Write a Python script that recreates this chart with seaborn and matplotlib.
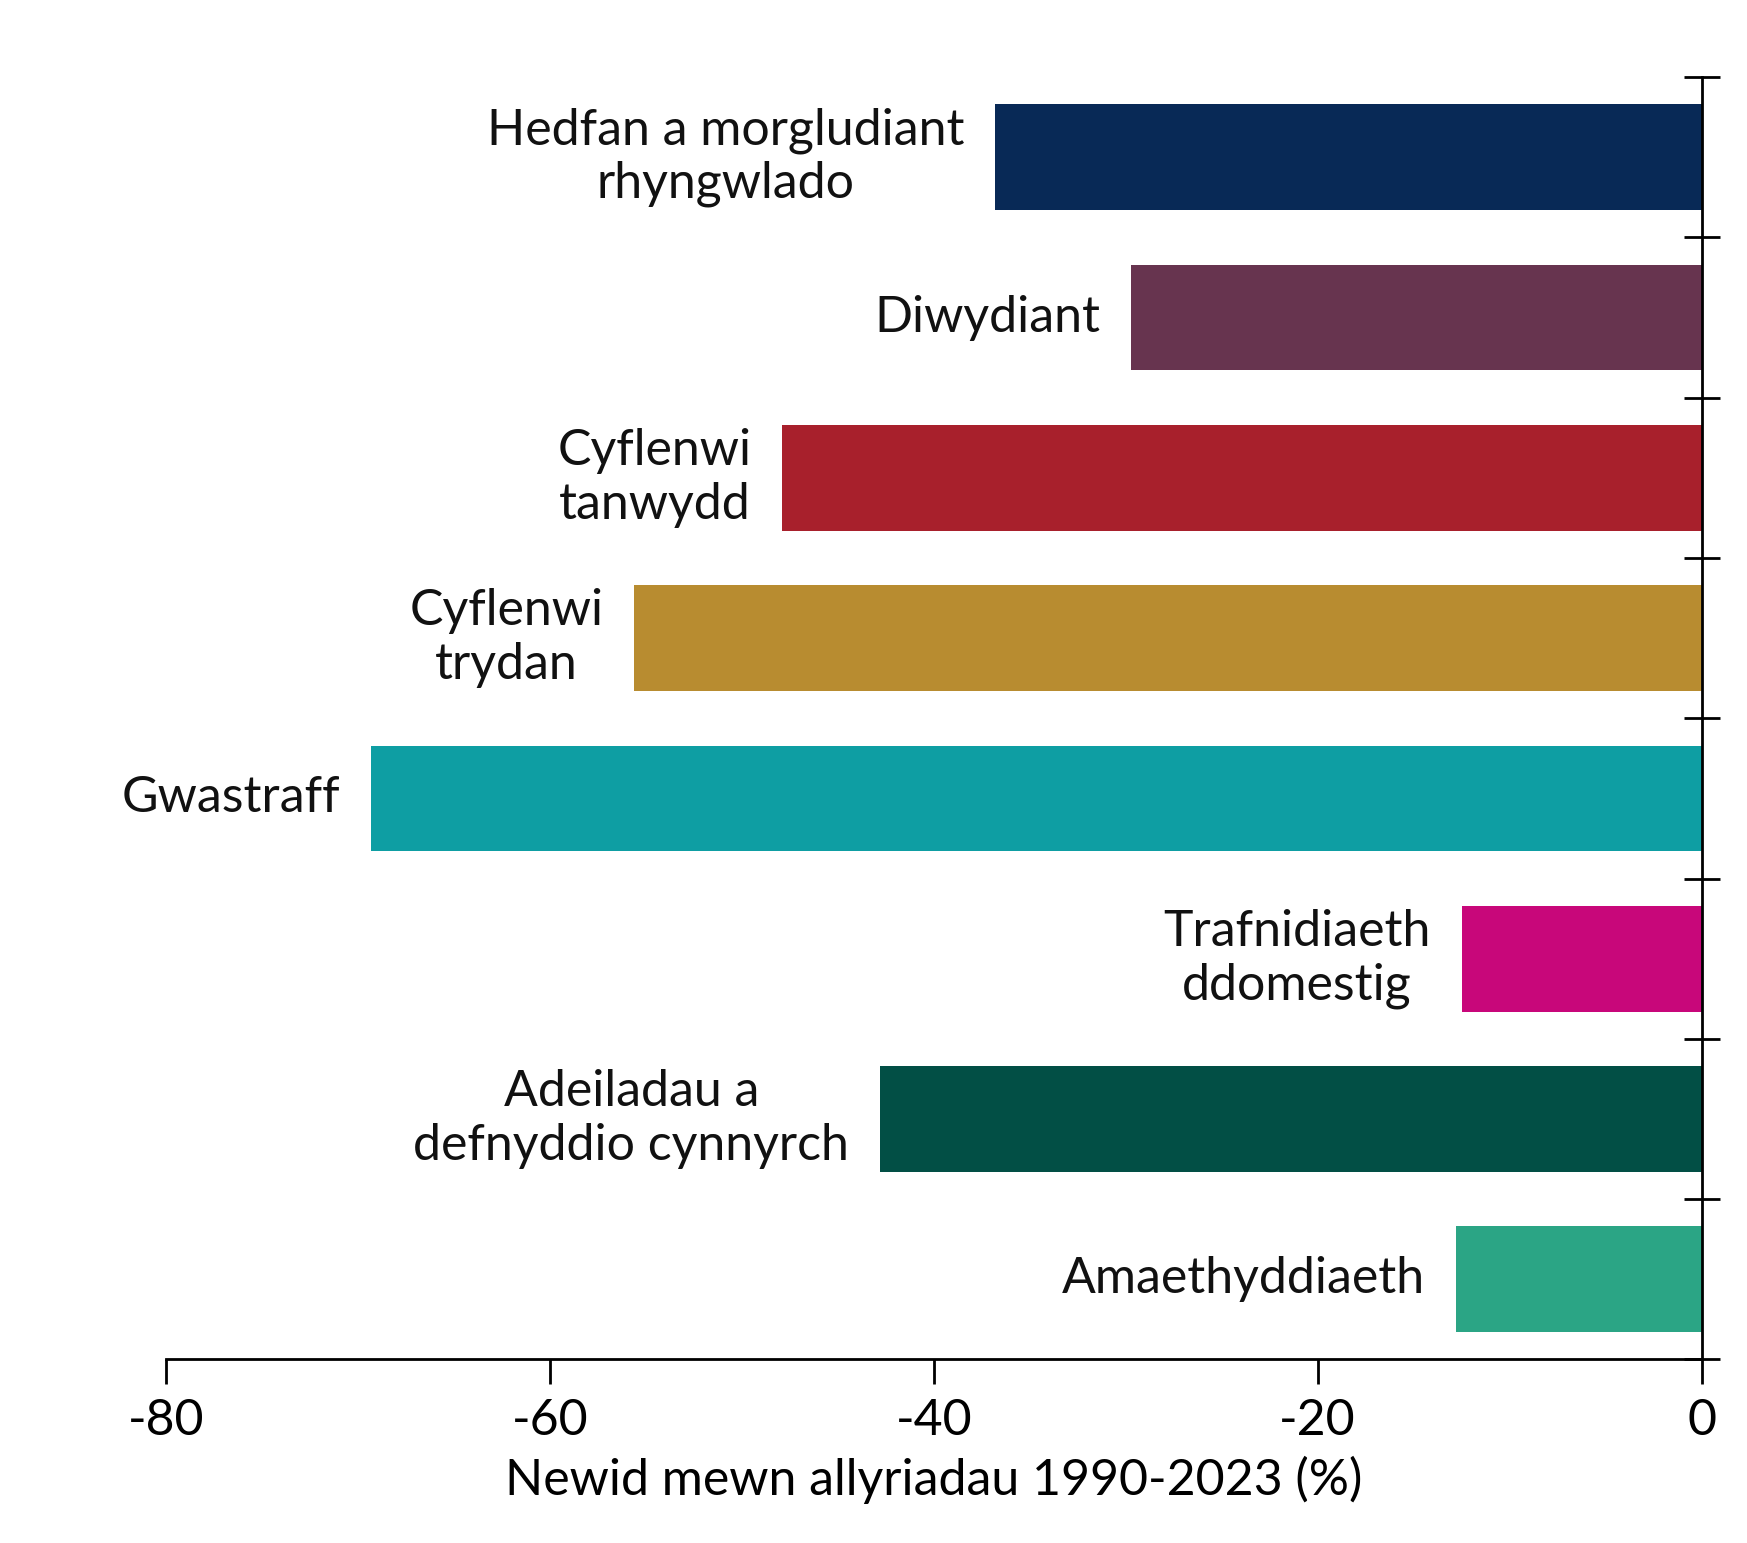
import numpy as np
import pandas as pd
import seaborn as sns
import matplotlib.pyplot as plt

categories = ['Hedfan a morgludiant\nrhyngwlado', 'Diwydiant', 'Cyflenwi\ntanwydd',
              'Cyflenwi\ntrydan', 'Gwastraff', 'Trafnidiaeth\nddomestig',
              'Adeiladau a\ndefnyddio cynnyrch', 'Amaethyddiaeth']
values = [-36.8, -29.7, -47.9, -55.6, -69.3, -12.5, -42.8, -12.8]
colors = ['#082956', '#67344F', '#A8202C', '#B88C30', '#0E9EA3', '#C8077A', '#024F45', '#2BA585']

plt.rcParams['font.family'] = 'Lato'
df = pd.DataFrame({'cat': categories, 'val': values})

fig = plt.figure(figsize=(17.47, 15.43), dpi=100)
ax = fig.add_axes([0.095, 0.119, 0.879, 0.831])
sns.barplot(data=df, x='val', y='cat', hue='cat', palette=colors, width=0.66,
            legend=False, ax=ax, saturation=1)

for i, (c, v) in enumerate(zip(categories, values)):
    ax.text(v - 1.6, i, c, ha='right', va='center', multialignment='center',
            fontsize=36, color='#111111')

ax.set_xlim(-80, 0)
ax.set_ylim(7.5, -0.5)
ax.set_xticks([-80, -60, -40, -20, 0])
ax.set_xticklabels(['-80', '-60', '-40', '-20', '0'], fontsize=36)
ax.set_yticks(np.arange(-0.5, 8, 1))
ax.set_yticklabels([])
ax.yaxis.tick_right()
ax.set_ylabel('')
ax.set_xlabel('Newid mewn allyriadau 1990-2023 (%)', fontsize=36, labelpad=8)
for s in ['top', 'left']:
    ax.spines[s].set_visible(False)
ax.spines['right'].set_linewidth(2)
ax.spines['bottom'].set_linewidth(2)
ax.tick_params(axis='y', direction='inout', length=26, width=2)
ax.tick_params(axis='x', direction='out', length=18, width=2, pad=10)

fig.savefig('out.png', dpi=100)
